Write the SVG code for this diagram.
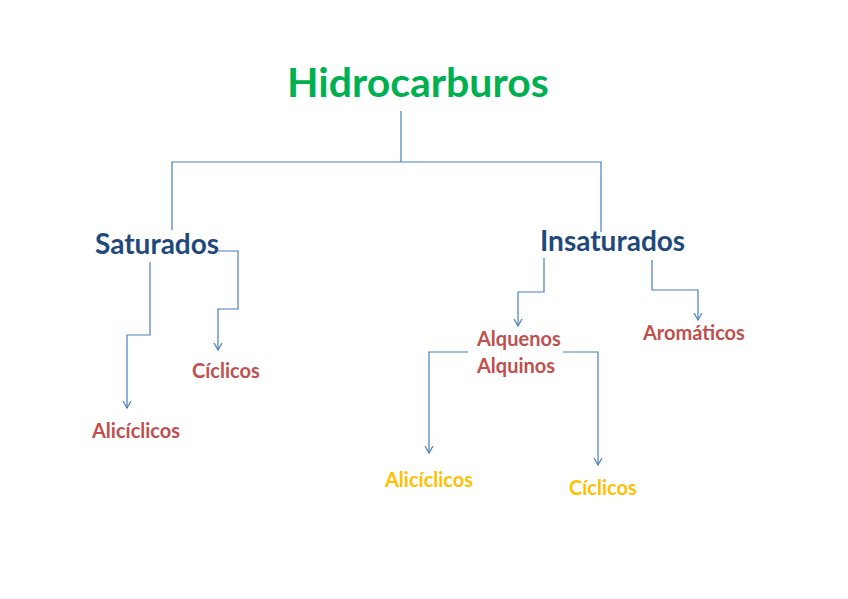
<svg xmlns="http://www.w3.org/2000/svg" width="848" height="599" viewBox="0 0 848 599">
<style>
text{font-family:Lato,"Open Sans","DejaVu Sans",sans-serif;font-weight:bold}
.t{fill:#00B050;font-size:41px}
.b{fill:#1F497D;font-size:28px}
.r{fill:#C0504D;font-size:20px}
.y{fill:#FFC000;font-size:20px}
.c{fill:none;stroke:#4A7EBB;stroke-width:1.2}
</style>
<defs>
<marker id="a" markerWidth="10" markerHeight="10" refX="7" refY="5" orient="auto" markerUnits="userSpaceOnUse" viewBox="0 0 10 10">
<path d="M0,1 L7,5 L0,9" fill="none" stroke="#4A7EBB" stroke-width="1.2"/>
</marker>
</defs>
<rect width="848" height="599" fill="#fff"/>
<g id="connectors">
<path class="c" d="M401,111 V162 M172,230 V162 H601 V232"/>
<path class="c" d="M218,251 H238 V309 H218 V350" marker-end="url(#a)"/>
<path class="c" d="M150,262 V335 H127 V408" marker-end="url(#a)"/>
<path class="c" d="M544,258 V292 H518 V326" marker-end="url(#a)"/>
<path class="c" d="M652,260 V290 H698 V320" marker-end="url(#a)"/>
<path class="c" d="M468,352 H429 V453" marker-end="url(#a)"/>
<path class="c" d="M563,352 H598 V465" marker-end="url(#a)"/>
</g>
<g id="hidrocarburos"><text class="t" x="287" y="97">Hidrocarburos</text></g>
<g id="saturados"><text class="b" x="95" y="254">Saturados</text></g>
<g id="insaturados"><text class="b" x="540" y="251">Insaturados</text></g>
<g id="ciclicos-sat"><text class="r" x="192" y="378">Cíclicos</text></g>
<g id="aliciclicos-sat"><text class="r" x="92" y="438">Alicíclicos</text></g>
<g id="alquenos"><text class="r" x="477" y="346">Alquenos</text><text class="r" x="477" y="373">Alquinos</text></g>
<g id="aromaticos"><text class="r" x="643" y="340">Aromáticos</text></g>
<g id="aliciclicos-ins"><text class="y" x="385" y="487">Alicíclicos</text></g>
<g id="ciclicos-ins"><text class="y" x="569" y="495">Cíclicos</text></g>
</svg>
